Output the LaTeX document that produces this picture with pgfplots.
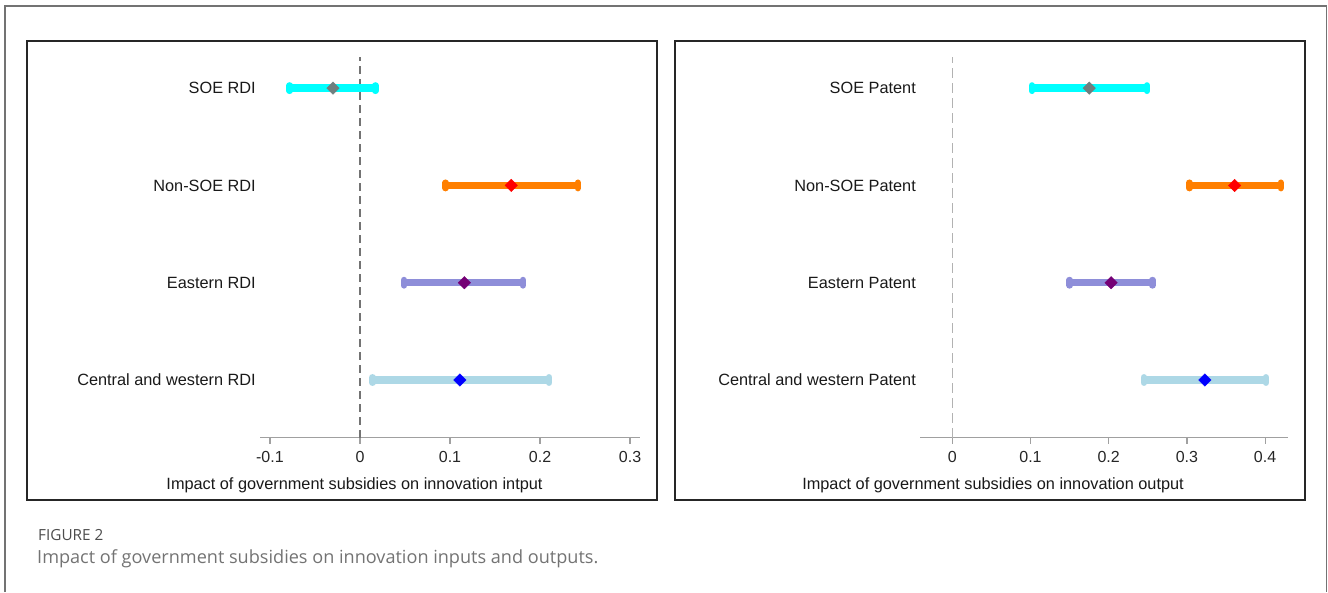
\documentclass[border=0pt]{standalone}
\usepackage{pgfplots}
\pgfplotsset{compat=1.18}
\usepackage{fontspec}
\setmainfont{Liberation Sans}
\newfontfamily\capfont{Open Sans}
\definecolor{cCyan}{HTML}{00FFFF}
\definecolor{cGrayPt}{HTML}{6F7F7F}
\definecolor{cOrange}{HTML}{FF7F00}
\definecolor{cRed}{HTML}{FF0000}
\definecolor{cPurple}{HTML}{8E8ED9}
\definecolor{cDPurple}{HTML}{750075}
\definecolor{cLBlue}{HTML}{ADD8E6}
\definecolor{cBlue}{HTML}{0000FF}
\definecolor{axgray}{HTML}{A0A0A0}
\pgfplotsset{
  cibar/.style={line width=7.5pt, forget plot},
  cicap/.style={only marks, mark=|, mark size=2.7pt, mark options={line width=6.5pt, line cap=round}, forget plot},
  cipt/.style={only marks, mark=square*, mark size=4.4pt, mark options={rotate=45}, forget plot},
  paneax/.style={
    scale only axis, clip=false,
    axis x line*=bottom, axis y line=none,
    ymin=0.407, ymax=4.32, height=380.7pt,
    tick align=outside, major tick length=6pt,
    x axis line style={color=axgray, line width=1.2pt},
    xtick style={color=axgray, line width=1.2pt},
    xticklabel style={font=\fontsize{16}{19}\selectfont, text=black!85, yshift=-4.5pt},
    /pgf/number format/assume math mode=true,
    /pgf/number format/fixed,
    anchor=south west,
  },
}
\begin{document}
\begin{tikzpicture}[x=1pt,y=1pt]
\useasboundingbox (0,0) rectangle (1328,592);
% outer frame
\draw[color=black!55, line width=1.8pt] (5,0) -- (5,586) -- (1326.5,586) -- (1326.5,0);
% panel frames
\draw[black!85, line width=1.3pt] (27,92) rectangle (657,551);
\draw[black!85, line width=1.3pt] (675,92) rectangle (1305,551);
\def\lblfont{\fontsize{16.3}{19}\selectfont}
% left panel
\begin{axis}[paneax, at={(260pt,154.3pt)}, width=380pt,
  xmin=-0.111, xmax=0.311, xtick={-0.1,0,0.1,0.2,0.3}]
\addplot[color=black!55, line width=1.8pt, dash pattern=on 8pt off 5pt, forget plot] coordinates {(0,0.407) (0,4.32)};
% SOE RDI
\addplot[cibar, cCyan] coordinates {(-0.078,4) (0.017,4)};
\addplot[cicap, cCyan] coordinates {(-0.078,4) (0.017,4)};
\addplot[cipt, cGrayPt] coordinates {(-0.030,4)};
% Non-SOE RDI
\addplot[cibar, cOrange] coordinates {(0.095,3) (0.242,3)};
\addplot[cicap, cOrange] coordinates {(0.095,3) (0.242,3)};
\addplot[cipt, cRed] coordinates {(0.168,3)};
% Eastern RDI
\addplot[cibar, cPurple] coordinates {(0.049,2) (0.181,2)};
\addplot[cicap, cPurple] coordinates {(0.049,2) (0.181,2)};
\addplot[cipt, cDPurple] coordinates {(0.116,2)};
% Central and western RDI
\addplot[cibar, cLBlue] coordinates {(0.014,1) (0.210,1)};
\addplot[cicap, cLBlue] coordinates {(0.014,1) (0.210,1)};
\addplot[cipt, cBlue] coordinates {(0.111,1)};
\node[anchor=east, inner sep=0pt, font=\lblfont, text=black!90] at (axis cs:-0.1155,4) {SOE RDI};
\node[anchor=east, inner sep=0pt, font=\lblfont, text=black!90] at (axis cs:-0.1155,3) {Non-SOE RDI};
\node[anchor=east, inner sep=0pt, font=\lblfont, text=black!90] at (axis cs:-0.1155,2) {Eastern RDI};
\node[anchor=east, inner sep=0pt, font=\lblfont, text=black!90] at (axis cs:-0.1155,1) {Central and western RDI};
\end{axis}
% right panel
\begin{axis}[paneax, at={(920pt,154.3pt)}, width=367.7pt,
  xmin=-0.0413, xmax=0.4289, xtick={0,0.1,0.2,0.3,0.4}]
\addplot[color=black!30, line width=1.6pt, dash pattern=on 10pt off 5pt, forget plot] coordinates {(0,0.407) (0,4.32)};
\addplot[cibar, cCyan] coordinates {(0.102,4) (0.249,4)};
\addplot[cicap, cCyan] coordinates {(0.102,4) (0.249,4)};
\addplot[cipt, cGrayPt] coordinates {(0.175,4)};
\addplot[cibar, cOrange] coordinates {(0.303,3) (0.420,3)};
\addplot[cicap, cOrange] coordinates {(0.303,3) (0.420,3)};
\addplot[cipt, cRed] coordinates {(0.361,3)};
\addplot[cibar, cPurple] coordinates {(0.150,2) (0.256,2)};
\addplot[cicap, cPurple] coordinates {(0.150,2) (0.256,2)};
\addplot[cipt, cDPurple] coordinates {(0.203,2)};
\addplot[cibar, cLBlue] coordinates {(0.245,1) (0.401,1)};
\addplot[cicap, cLBlue] coordinates {(0.245,1) (0.401,1)};
\addplot[cipt, cBlue] coordinates {(0.323,1)};
\node[anchor=east, inner sep=0pt, font=\lblfont, text=black!90] at (axis cs:-0.0464,4) {SOE Patent};
\node[anchor=east, inner sep=0pt, font=\lblfont, text=black!90] at (axis cs:-0.0464,3) {Non-SOE Patent};
\node[anchor=east, inner sep=0pt, font=\lblfont, text=black!90] at (axis cs:-0.0464,2) {Eastern Patent};
\node[anchor=east, inner sep=0pt, font=\lblfont, text=black!90] at (axis cs:-0.0464,1) {Central and western Patent};
\end{axis}
% x labels
\node[font=\lblfont, text=black!90] at (354.5,107) {Impact of government subsidies on innovation intput};
\node[font=\lblfont, text=black!90] at (993,107) {Impact of government subsidies on innovation output};
% caption
\node[anchor=west, inner sep=0pt, font=\capfont\fontsize{15.3}{17}\selectfont, text=black!70] at (38,57) {FIGURE 2};
\node[anchor=west, inner sep=0pt, font=\capfont\fontsize{18.1}{22}\selectfont, text=black!55] at (37,33) {Impact of government subsidies on innovation inputs and outputs.};
\end{tikzpicture}
\end{document}
